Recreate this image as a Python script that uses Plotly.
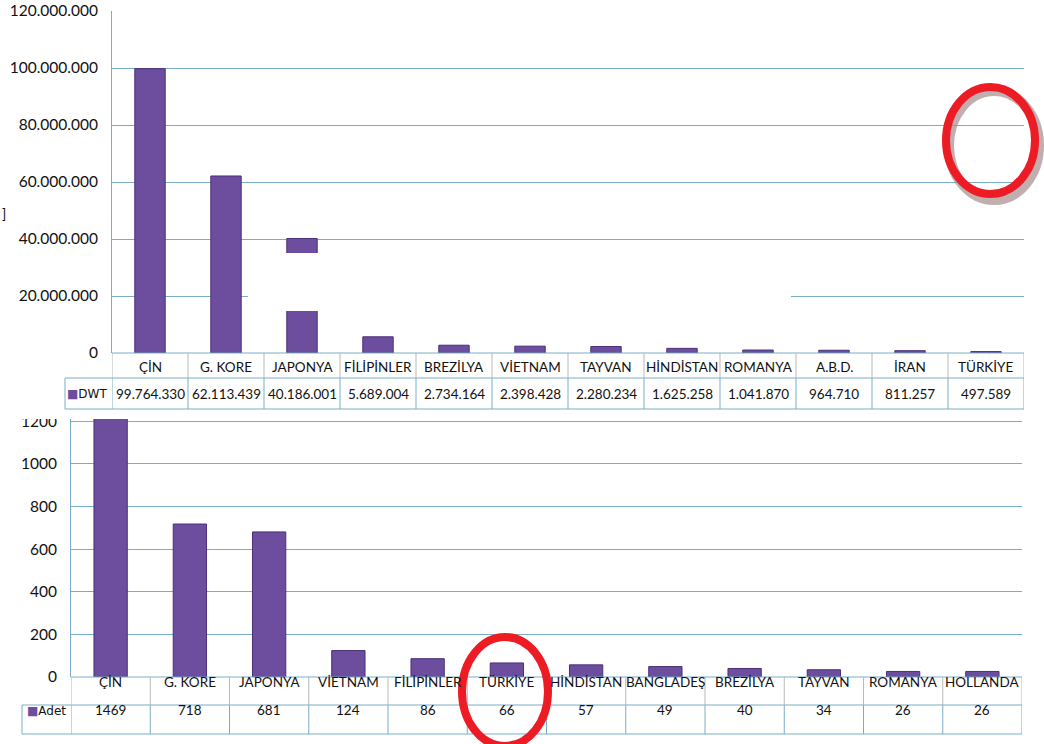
import plotly.graph_objects as go

# DWT by country (top chart)
dwt_countries = ["ÇİN", "G. KORE", "JAPONYA", "FİLİPİNLER", "BREZİLYA", "VİETNAM",
                 "TAYVAN", "HİNDİSTAN", "ROMANYA", "A.B.D.", "İRAN", "TÜRKİYE"]
dwt_values = [99764330, 62113439, 40186001, 5689004, 2734164, 2398428,
              2280234, 1625258, 1041870, 964710, 811257, 497589]

# number of ships by country (bottom chart)
adet_countries = ["ÇİN", "G. KORE", "JAPONYA", "VİETNAM", "FİLİPİNLER", "TÜRKİYE",
                  "HİNDİSTAN", "BANGLADEŞ", "BREZİLYA", "TAYVAN", "ROMANYA", "HOLLANDA"]
adet_values = [1469, 718, 681, 124, 86, 66, 57, 49, 40, 34, 26, 26]

W, H = 1044, 744
FONT = "Lato, 'Open Sans', sans-serif"
GRID = "#78afc6"
CELL = "#b9b9b9"
BAR = "#6d4d9d"
BAR_EDGE = "#4a3078"
TXT = "#111111"


def py(px):
    # pixel row -> paper y
    return 1 - px / H


def dotted(v):
    return f"{v:,}".replace(",", ".")


fig = go.Figure()
fig.add_trace(go.Bar(x=dwt_countries, y=dwt_values, width=0.4, xaxis="x", yaxis="y",
                     marker=dict(color=BAR, line=dict(color=BAR_EDGE, width=1))))
fig.add_trace(go.Bar(x=adet_countries, y=adet_values, width=0.42, xaxis="x2", yaxis="y2",
                     marker=dict(color=BAR, line=dict(color=BAR_EDGE, width=1))))

axis_common = dict(showgrid=True, gridcolor=GRID, gridwidth=1, zeroline=False,
                   showline=True, linecolor=GRID, linewidth=1, automargin=False,
                   tickfont=dict(family=FONT, size=15.5, color=TXT), ticklabelstandoff=10)

fig.update_layout(
    width=W, height=H, margin=dict(l=0, r=0, t=0, b=0, pad=0),
    paper_bgcolor="white", plot_bgcolor="white", showlegend=False,
    separators=",.",
    xaxis=dict(domain=[112 / W, 1024 / W], type="category", range=[-0.5, 11.5], automargin=False,
               showticklabels=False, showgrid=False, showline=False, anchor="y"),
    yaxis=dict(domain=[py(353), py(11)], range=[0, 120e6], dtick=20e6,
               tickformat=",d", anchor="x", **axis_common),
    xaxis2=dict(domain=[71 / W, 1022 / W], type="category", range=[-0.5, 11.5], automargin=False,
                showticklabels=False, showgrid=False, showline=False, anchor="y2"),
    yaxis2=dict(domain=[py(677), py(419)], range=[0, 1211], dtick=200,
                tickformat="d", anchor="x2", **axis_common),
)

shapes = []
annotations = []


def data_table(countries, values, fmt, xref, x_left_px, x_right_px, legend_left_px,
               top, mid, bottom, label):
    n = len(countries)
    # horizontal borders
    for yy, x0 in ((top, x_left_px), (mid, legend_left_px), (bottom, legend_left_px)):
        shapes.append(dict(type="line", xref="paper", yref="paper", x0=x0 / W,
                           x1=x_right_px / W, y0=py(yy), y1=py(yy), line=dict(color=GRID, width=1)))
    # legend cell left edge
    shapes.append(dict(type="line", xref="paper", yref="paper", x0=legend_left_px / W,
                       x1=legend_left_px / W, y0=py(mid), y1=py(bottom), line=dict(color=GRID, width=1)))
    # vertical cell borders on category boundaries
    for i in range(n + 1):
        shapes.append(dict(type="line", xref=xref, yref="paper", x0=i - 0.5, x1=i - 0.5,
                           y0=py(top), y1=py(mid), line=dict(color=CELL, width=1)))
        shapes.append(dict(type="line", xref=xref, yref="paper", x0=i - 0.5, x1=i - 0.5,
                           y0=py(mid), y1=py(bottom), line=dict(color=GRID, width=1)))
    for c, v in zip(countries, values):
        annotations.append(dict(x=c, xref=xref, y=py((top + mid) / 2 + 1), yref="paper",
                                text=c, showarrow=False,
                                font=dict(family=FONT, size=13.5, color=TXT)))
        annotations.append(dict(x=c, xref=xref, y=py((mid + bottom) / 2), yref="paper",
                                text=fmt(v), showarrow=False,
                                font=dict(family=FONT, size=13.5, color=TXT)))
    # legend key: small purple square + series name
    annotations.append(dict(x=(x_left_px - 3) / W, xref="paper", xanchor="right",
                            y=py((mid + bottom) / 2), yref="paper",
                            text=f"<span style='color:{BAR}'>■</span>{label}", showarrow=False,
                            font=dict(family="DejaVu Sans", size=12, color=TXT)))


data_table(dwt_countries, dwt_values, dotted, "x", 112, 1024, 65, 353, 378, 409, "DWT")
data_table(adet_countries, adet_values, str, "x2", 71, 1022, 22, 677, 705, 734, "Adet")

# white patch covering part of the top chart (as in the scanned source)
shapes.append(dict(type="rect", xref="paper", yref="paper", x0=248 / W, x1=791 / W,
                   y0=py(311), y1=py(253), fillcolor="white", line=dict(width=0), layer="above"))
# clip the top of the bottom chart's labels
shapes.append(dict(type="rect", xref="paper", yref="paper", x0=0, x1=70 / W,
                   y0=py(419), y1=py(410), fillcolor="white", line=dict(width=0), layer="above"))

# red highlight ellipses with hatched shadow
shapes.append(dict(type="circle", xref="paper", yref="paper", x0=949 / W, x1=1039 / W,
                   y0=py(200), y1=py(91), line=dict(color="#a88e8e", width=10), opacity=0.7,
                   layer="above"))
shapes.append(dict(type="circle", xref="paper", yref="paper", x0=946 / W, x1=1035 / W,
                   y0=py(194), y1=py(87), line=dict(color="#ed1c24", width=8), layer="above"))
shapes.append(dict(type="circle", xref="paper", yref="paper", x0=462 / W, x1=548 / W,
                   y0=py(746), y1=py(637), line=dict(color="#ed1c24", width=8), layer="above"))

annotations.append(dict(x=0, xref="paper", xanchor="left", y=py(203), yref="paper",
                        text="]", showarrow=False, font=dict(family=FONT, size=14, color=TXT)))

fig.update_layout(shapes=shapes, annotations=annotations)

fig.write_html("out.html", config={"displayModeBar": False},
               post_script="document.body.style.margin='0';")
